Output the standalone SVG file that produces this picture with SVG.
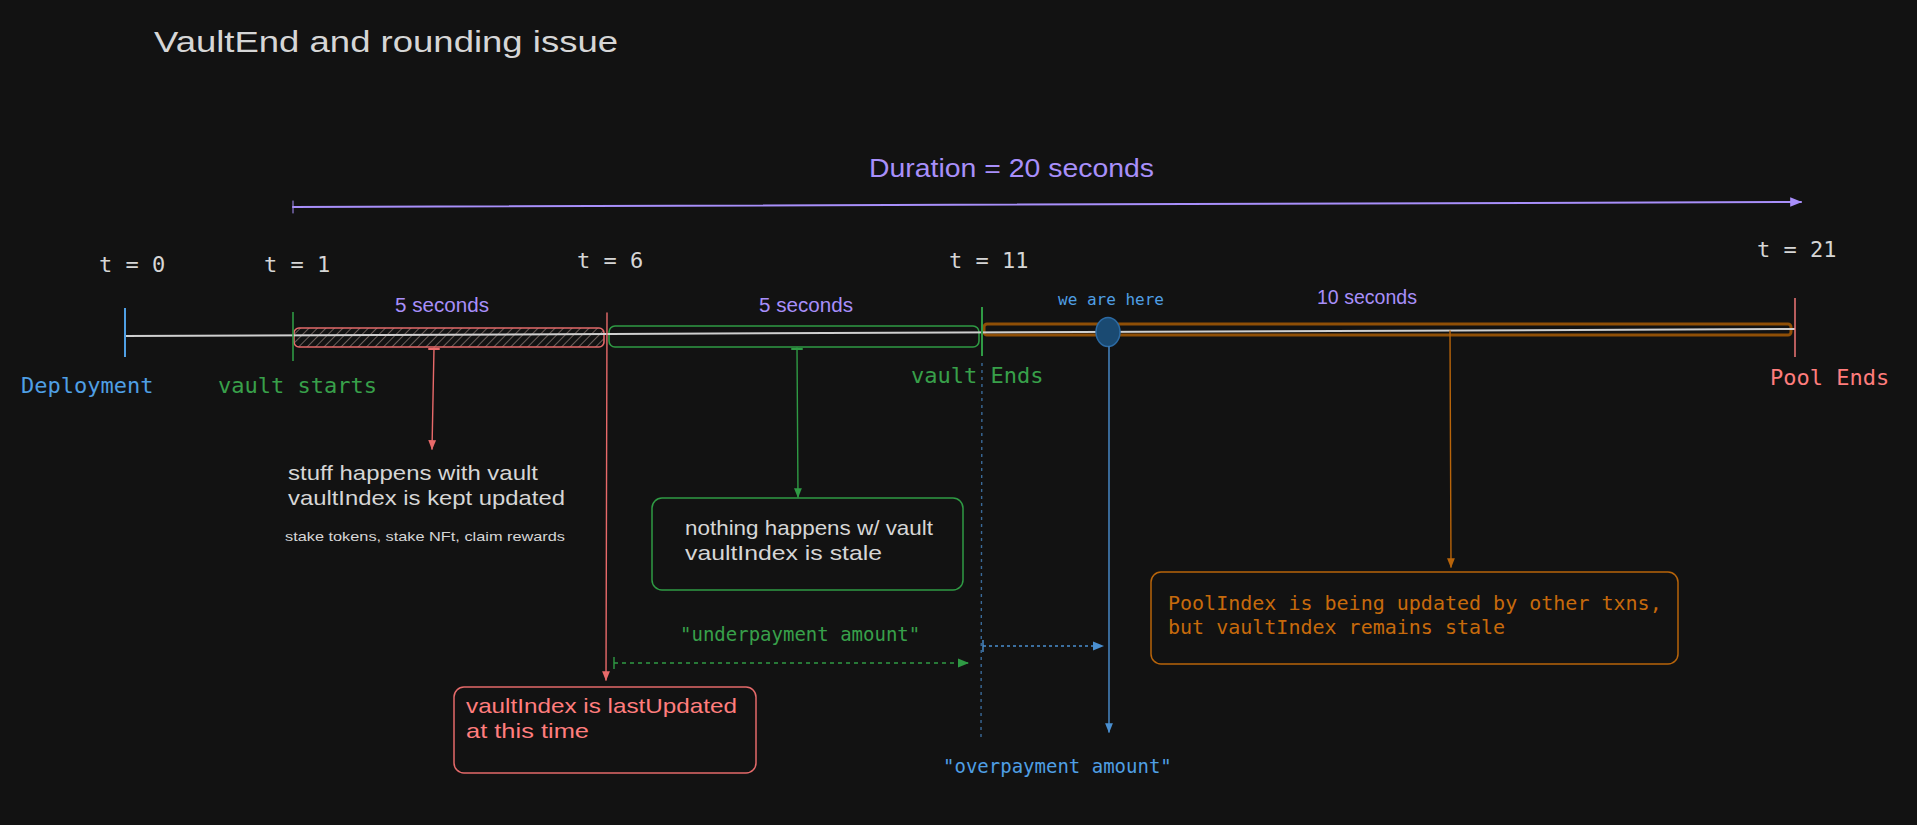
<svg xmlns="http://www.w3.org/2000/svg" width="1917" height="825" viewBox="0 0 1917 825">
<style>
.hand{font-family:"Liberation Sans","DejaVu Sans",sans-serif;}
.mono{font-family:"DejaVu Sans Mono","Liberation Mono",monospace;}
.grey{fill:#d6d6d6;}
.purple{fill:#a88ffa;}
.blue{fill:#4f9fe4;}
.green{fill:#38a04a;}
.red{fill:#ff7d7d;}
.orange{fill:#c76a0c;}
.ln{fill:none;stroke-linecap:round;}
</style>
<defs>
<pattern id="hatch" width="6" height="6" patternUnits="userSpaceOnUse" patternTransform="rotate(45)">
<line x1="0" y1="0" x2="0" y2="6" stroke="#857570" stroke-width="1.6"/>
</pattern>
<marker id="aRed" viewBox="0 0 10 10" refX="9" refY="5" markerWidth="7" markerHeight="7" orient="auto"><path d="M0,1 L10,5 L0,9 z" fill="#e86a6a"/></marker>
<marker id="aGreen" viewBox="0 0 10 10" refX="9" refY="5" markerWidth="7" markerHeight="7" orient="auto"><path d="M0,1 L10,5 L0,9 z" fill="#2f9a44"/></marker>
<marker id="aOrange" viewBox="0 0 10 10" refX="9" refY="5" markerWidth="7" markerHeight="7" orient="auto"><path d="M0,1 L10,5 L0,9 z" fill="#b8640a"/></marker>
<marker id="aBlue" viewBox="0 0 10 10" refX="9" refY="5" markerWidth="7" markerHeight="7" orient="auto"><path d="M0,1 L10,5 L0,9 z" fill="#4a8fd0"/></marker>
<marker id="aPurple" viewBox="0 0 10 10" refX="9" refY="5" markerWidth="6" markerHeight="6" orient="auto"><path d="M0,1 L10,5 L0,9 z" fill="#a88ffa"/></marker>
</defs>
<rect width="1917" height="825" fill="#121212"/>

<g id="title">
<text class="hand grey" x="154" y="52" font-size="30" textLength="464" lengthAdjust="spacingAndGlyphs">VaultEnd and rounding issue</text>
</g>

<g id="duration">
<text class="hand purple" x="869" y="177" font-size="25" textLength="285" lengthAdjust="spacingAndGlyphs">Duration = 20 seconds</text>
</g>

<g id="time-labels">
<text class="mono grey" x="99" y="272" font-size="22">t = 0</text>
<text class="mono grey" x="264" y="272" font-size="22">t = 1</text>
<text class="mono grey" x="577" y="268" font-size="22">t = 6</text>
<text class="mono grey" x="949" y="268" font-size="22">t = 11</text>
<text class="mono grey" x="1757" y="257" font-size="22">t = 21</text>
</g>

<g id="span-labels">
<text class="hand purple" x="395" y="312" font-size="20" textLength="94" lengthAdjust="spacingAndGlyphs">5 seconds</text>
<text class="hand purple" x="759" y="312" font-size="20" textLength="94" lengthAdjust="spacingAndGlyphs">5 seconds</text>
<text class="hand purple" x="1317" y="304" font-size="20" textLength="100" lengthAdjust="spacingAndGlyphs">10 seconds</text>
<text class="mono blue" x="1058" y="305" font-size="16">we are here</text>
</g>

<g id="segments">
<rect x="294" y="328" width="310" height="19" rx="5" fill="url(#hatch)" stroke="#e46a6a" stroke-width="1.6"/>
<rect x="609" y="326" width="370" height="21" rx="6" fill="none" stroke="#2f9a44" stroke-width="1.6"/>
<rect x="984" y="324" width="807" height="11" rx="3" fill="none" stroke="#8f4f06" stroke-width="3"/>
<line x1="125" y1="336" x2="1795" y2="329" stroke="#cfcfcf" stroke-width="2"/>
</g>

<g id="markers">
<line x1="125" y1="308" x2="125" y2="357" stroke="#4f9fe4" stroke-width="2"/>
<line x1="293" y1="312" x2="293" y2="361" stroke="#2f9a44" stroke-width="1.6"/>
<line x1="982" y1="307" x2="982" y2="356" stroke="#2f9a44" stroke-width="2"/>
<line x1="1795" y1="298" x2="1795" y2="357" stroke="#ff7d7d" stroke-width="1.4"/>
</g>

<g id="marker-labels">
<text class="mono blue" x="21" y="393" font-size="22">Deployment</text>
<text class="mono green" x="218" y="393" font-size="22">vault starts</text>
<text class="mono green" x="911" y="383" font-size="22">vault Ends</text>
<text class="mono red" x="1770" y="385" font-size="22">Pool Ends</text>
</g>

<g id="we-are-here">
<ellipse cx="1108" cy="332" rx="12" ry="14.5" fill="#1a4a72" stroke="#2c6aa3" stroke-width="1.5"/>
</g>

<g id="connectors">
<line class="ln" x1="293" y1="207" x2="1801" y2="202" stroke="#a88ffa" stroke-width="2" marker-end="url(#aPurple)"/>
<line class="ln" x1="293" y1="201" x2="293" y2="213" stroke="#a88ffa" stroke-width="1"/>

<line class="ln" x1="434" y1="348" x2="432" y2="449" stroke="#e86a6a" stroke-width="1.4" marker-end="url(#aRed)"/>
<line class="ln" x1="429" y1="349" x2="439" y2="349" stroke="#e86a6a" stroke-width="2"/>

<line class="ln" x1="607" y1="313" x2="606" y2="680" stroke="#e86a6a" stroke-width="1.4" marker-end="url(#aRed)"/>

<line class="ln" x1="797" y1="348" x2="798" y2="497" stroke="#2f9a44" stroke-width="1.4" marker-end="url(#aGreen)"/>
<line class="ln" x1="792" y1="349" x2="802" y2="349" stroke="#2f9a44" stroke-width="2"/>

<line class="ln" x1="1450" y1="331" x2="1451" y2="567" stroke="#b8640a" stroke-width="1.4" marker-end="url(#aOrange)"/>

<line class="ln" x1="1109" y1="347" x2="1109" y2="732" stroke="#4a8fd0" stroke-width="1.4" marker-end="url(#aBlue)"/>

<line x1="982" y1="363" x2="981" y2="737" stroke="#3a6a99" stroke-width="1.4" stroke-dasharray="3 4"/>

<line x1="614" y1="663" x2="968" y2="663" stroke="#2f9a44" stroke-width="1.6" stroke-dasharray="4 4" marker-end="url(#aGreen)"/>
<line x1="614" y1="657" x2="614" y2="669" stroke="#2f9a44" stroke-width="1.4"/>

<line x1="983" y1="646" x2="1103" y2="646" stroke="#4a8fd0" stroke-width="1.6" stroke-dasharray="3 3" marker-end="url(#aBlue)"/>
<line x1="983" y1="640" x2="983" y2="652" stroke="#4a8fd0" stroke-width="1.4"/>
</g>

<g id="note-stuff">
<text class="hand grey" x="288" y="480" font-size="21" textLength="250" lengthAdjust="spacingAndGlyphs">stuff happens with vault</text>
<text class="hand grey" x="288" y="505" font-size="21" textLength="277" lengthAdjust="spacingAndGlyphs">vaultIndex is kept updated</text>
<text class="hand grey" x="285" y="541" font-size="13" textLength="280" lengthAdjust="spacingAndGlyphs">stake tokens, stake NFt, claim rewards</text>
</g>

<g id="note-nothing">
<rect x="652" y="498" width="311" height="92" rx="10" fill="none" stroke="#2f9a44" stroke-width="1.5"/>
<text class="hand grey" x="685" y="535" font-size="21" textLength="248" lengthAdjust="spacingAndGlyphs">nothing happens w/ vault</text>
<text class="hand grey" x="685" y="560" font-size="21" textLength="197" lengthAdjust="spacingAndGlyphs">vaultIndex is stale</text>
</g>

<g id="note-lastupdated">
<rect x="454" y="687" width="302" height="86" rx="10" fill="none" stroke="#e46a6a" stroke-width="1.5"/>
<text class="hand red" x="466" y="713" font-size="21" textLength="271" lengthAdjust="spacingAndGlyphs">vaultIndex is lastUpdated</text>
<text class="hand red" x="466" y="738" font-size="21" textLength="123" lengthAdjust="spacingAndGlyphs">at this time</text>
</g>

<g id="note-poolindex">
<rect x="1151" y="572" width="527" height="92" rx="10" fill="none" stroke="#b8640a" stroke-width="1.5"/>
<text class="mono orange" x="1168" y="610" font-size="20">PoolIndex is being updated by other txns,</text>
<text class="mono orange" x="1168" y="634" font-size="20">but vaultIndex remains stale</text>
</g>

<g id="amount-labels">
<text class="mono green" x="680" y="641" font-size="19">"underpayment amount"</text>
<text class="mono blue" x="943" y="773" font-size="19">"overpayment amount"</text>
</g>
</svg>
